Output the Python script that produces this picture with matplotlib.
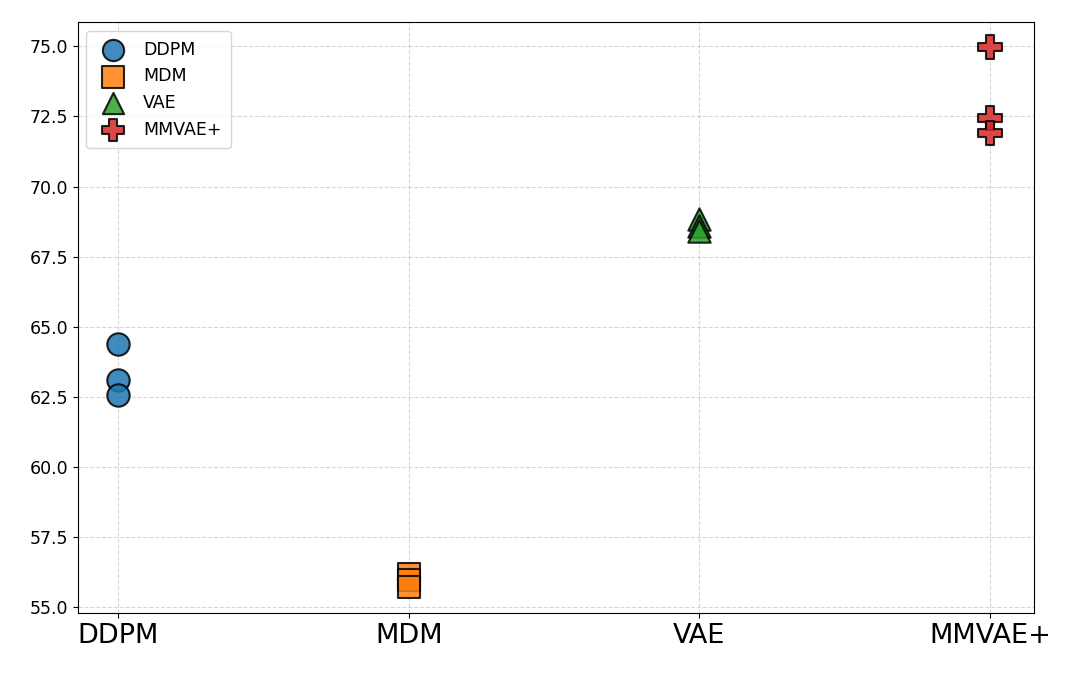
import matplotlib
matplotlib.use("Agg")
import matplotlib.pyplot as plt

categories = ["DDPM", "MDM", "VAE", "MMVAE+"]
ddpm_vals = [64.38, 63.1, 62.58]
mdm_vals = [56.16, 55.98, 55.73]
vae_vals = [68.83, 68.6, 68.42]
mmvae_vals = [74.97, 72.45, 71.9]

series = [
    ("DDPM", ddpm_vals, "o", "#1f77b4", 260),
    ("MDM", mdm_vals, "s", "#ff7f0e", 260),
    ("VAE", vae_vals, "^", "#2ca02c", 260),
    ("MMVAE+", mmvae_vals, "P", "#d62728", 300),
]

fig, ax = plt.subplots(figsize=(10.8, 6.75), dpi=100)
for i, (name, vals, mk, col, sz) in enumerate(series):
    ax.scatter([i] * len(vals), vals, s=sz, marker=mk, color=col, alpha=0.85,
               edgecolors="black", linewidths=1.5, label=name, zorder=3)

ax.set_xticks(range(len(categories)))
ax.set_xticklabels(categories, fontsize=19.5)
ax.tick_params(axis="y", labelsize=12.5)
yt = [55.0, 57.5, 60.0, 62.5, 65.0, 67.5, 70.0, 72.5, 75.0]
ax.set_yticks(yt)
ax.set_yticklabels([f"{v:.1f}" for v in yt])
ax.set_xlim(-0.14, 3.15)
ax.set_ylim(54.79, 75.86)
ax.grid(True, linestyle="--", alpha=0.5)
ax.legend(loc="upper left", fontsize=12.5, markerscale=0.95, borderpad=0.55, handletextpad=0.7)

fig.subplots_adjust(left=0.072, right=0.957, top=0.967, bottom=0.092)
fig.savefig("out.png", dpi=100)
